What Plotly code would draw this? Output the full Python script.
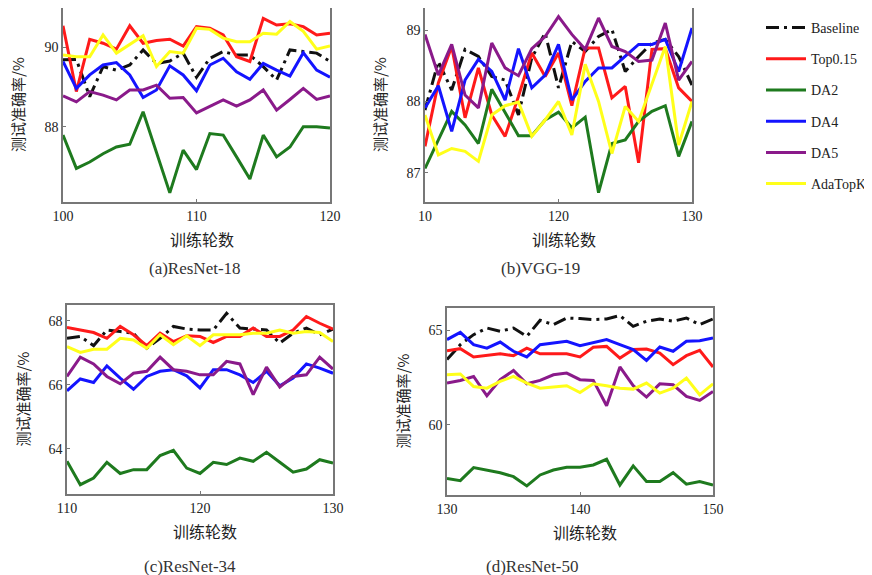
import plotly.graph_objects as go

series_names = ["Baseline", "Top0.15", "DA2", "DA4", "DA5", "AdaTopK"]
series_colors = ["#111111", "#ff1a1a", "#1e7a1e", "#1414ff", "#8a1a8a", "#ffff1a"]

# (a) ResNet-18
epochs_a = list(range(100, 121))
a_baseline = [89.69, 89.70, 88.76, 89.52, 89.43, 89.56, 89.94, 89.60, 89.66, 89.86, 89.25,
              89.73, 89.90, 89.81, 89.81, 89.52, 89.18, 89.94, 89.90, 89.86, 89.65]
a_top015 = [90.55, 88.89, 90.21, 90.11, 89.96, 90.55, 90.11, 90.18, 90.21, 90.04, 90.53,
            90.49, 90.32, 89.77, 89.65, 90.74, 90.57, 90.60, 90.53, 90.32, 90.36]
a_da2 = [87.79, 86.95, 87.11, 87.32, 87.49, 87.56, 88.38, 87.35, 86.33, 87.41, 86.92,
         87.83, 87.79, 87.24, 86.68, 87.79, 87.24, 87.49, 88.00, 88.00, 87.97]
a_da4 = [89.65, 88.97, 89.31, 89.56, 89.62, 89.31, 88.74, 88.93, 89.54, 89.31, 88.91,
         89.56, 89.73, 89.39, 89.20, 89.60, 89.43, 89.28, 89.87, 89.43, 89.25]
a_da5 = [88.78, 88.63, 88.89, 88.80, 88.68, 88.93, 88.93, 89.05, 88.72, 88.74, 88.35,
         88.51, 88.68, 88.52, 88.68, 88.93, 88.42, 88.69, 88.97, 88.69, 88.78]
a_adatopk = [89.81, 89.77, 89.77, 90.32, 89.86, 90.07, 90.30, 89.52, 89.90, 89.86, 90.49,
             90.46, 90.24, 90.15, 90.15, 90.36, 90.34, 90.66, 90.41, 89.96, 90.04]

# (b) VGG-19
epochs_b = list(range(110, 131))
b_baseline = [87.88, 88.56, 88.16, 88.73, 88.63, 88.35, 88.30, 87.81, 88.61, 88.96, 88.19,
              88.84, 88.70, 88.91, 89.01, 88.42, 88.63, 88.82, 88.87, 88.63, 88.23]
b_top015 = [87.37, 88.26, 88.77, 87.77, 88.47, 87.81, 87.51, 88.07, 88.68, 88.35, 88.68,
            87.94, 88.75, 88.75, 88.05, 88.21, 87.14, 88.73, 88.74, 88.19, 88.00]
b_da2 = [87.06, 87.46, 87.86, 87.67, 87.41, 88.17, 87.84, 87.52, 87.52, 87.74, 87.85,
         87.63, 87.78, 86.72, 87.41, 87.46, 87.72, 87.86, 87.94, 87.23, 87.72]
b_da4 = [87.91, 88.22, 87.58, 88.30, 88.59, 88.42, 88.02, 88.74, 88.19, 88.37, 88.80,
         88.02, 88.28, 88.47, 88.47, 88.63, 88.80, 88.80, 88.87, 88.42, 89.03]
b_da5 = [88.94, 88.37, 88.80, 88.09, 87.91, 88.82, 88.47, 88.36, 88.74, 88.91, 89.19,
         88.94, 88.73, 89.17, 88.77, 88.70, 88.56, 88.58, 89.10, 88.30, 88.56]
b_adatopk = [87.81, 87.25, 87.34, 87.30, 87.16, 87.81, 87.94, 87.99, 87.51, 87.74, 88.00,
             87.53, 88.52, 88.00, 87.27, 87.93, 87.72, 88.26, 88.77, 87.39, 88.00]

# (c) ResNet-34
epochs_c = list(range(110, 131))
c_baseline = [67.45, 67.51, 67.22, 67.71, 67.66, 67.61, 67.14, 67.45, 67.82, 67.74, 67.71,
              67.71, 68.23, 67.77, 67.74, 67.71, 67.30, 67.61, 67.77, 67.56, 67.74]
c_top015 = [67.79, 67.71, 67.63, 67.45, 67.82, 67.56, 67.22, 67.61, 67.35, 67.53, 67.51,
            67.32, 67.51, 67.51, 67.77, 67.51, 67.51, 67.71, 68.13, 67.92, 67.74]
c_da2 = [63.61, 62.88, 63.09, 63.58, 63.23, 63.35, 63.35, 63.79, 63.95, 63.40, 63.23,
         63.58, 63.51, 63.71, 63.61, 63.89, 63.58, 63.27, 63.37, 63.66, 63.56]
c_da4 = [65.81, 66.18, 66.07, 66.59, 66.21, 65.86, 66.26, 66.42, 66.47, 66.28, 65.90,
         66.47, 66.47, 66.31, 66.07, 66.42, 65.97, 66.21, 66.65, 66.52, 66.36]
c_da5 = [66.26, 66.86, 66.65, 66.26, 66.03, 66.36, 66.42, 66.86, 66.47, 66.42, 66.31,
         66.31, 66.73, 66.65, 65.69, 66.55, 65.93, 66.26, 66.31, 66.86, 66.49]
c_adatopk = [67.19, 67.01, 67.11, 67.11, 67.45, 67.40, 67.14, 67.56, 67.25, 67.53, 67.22,
             67.56, 67.56, 67.56, 67.61, 67.61, 67.71, 67.61, 67.66, 67.63, 67.35]

# (d) ResNet-50
epochs_d = list(range(130, 151))
d_baseline = [63.45, 64.24, 64.77, 65.12, 64.95, 65.12, 64.68, 65.53, 65.30, 65.65, 65.62,
              65.57, 65.60, 65.78, 65.21, 65.48, 65.60, 65.48, 65.65, 65.30, 65.60]
d_top015 = [63.92, 64.03, 63.59, 63.66, 63.76, 63.66, 64.06, 63.76, 63.76, 63.76, 63.59,
            64.10, 64.15, 63.53, 63.98, 64.01, 63.80, 63.18, 63.66, 63.94, 63.06]
d_da2 = [57.17, 57.05, 57.74, 57.61, 57.47, 57.26, 56.77, 57.35, 57.61, 57.76, 57.76,
         57.88, 58.18, 56.82, 57.83, 57.00, 57.00, 57.47, 56.86, 57.00, 56.82]
d_da4 = [64.51, 64.89, 64.24, 64.06, 64.38, 63.89, 63.59, 64.24, 64.33, 64.42, 64.19,
         64.36, 64.51, 64.24, 63.98, 63.41, 64.12, 63.89, 64.42, 64.45, 64.59]
d_da5 = [62.21, 62.35, 62.56, 61.54, 62.39, 62.88, 62.17, 62.35, 62.65, 62.74, 62.39,
         62.35, 61.01, 63.06, 62.07, 61.47, 62.17, 62.12, 61.50, 61.29, 61.77]
d_adatopk = [62.65, 62.69, 62.03, 61.94, 62.30, 62.56, 62.21, 61.94, 62.00, 62.07, 61.71,
             62.17, 62.07, 61.94, 61.89, 62.21, 61.68, 61.94, 62.47, 61.59, 62.17]

# tick labels
a_xticks = [100, 110, 120]; a_xticktext = ["100", "110", "120"]
a_yticks = [88, 90]; a_yticktext = ["88", "90"]
b_xticks = [110, 120, 130]; b_xticktext = ["10", "120", "130"]
b_yticks = [87, 88, 89]; b_yticktext = ["87", "88", "89"]
c_xticks = [110, 120, 130]; c_xticktext = ["110", "120", "130"]
c_yticks = [64, 66, 68]; c_yticktext = ["64", "66", "68"]
d_xticks = [130, 140, 150]; d_xticktext = ["130", "140", "150"]
d_yticks = [60, 65]; d_yticktext = ["60", "65"]

captions = ["(a)ResNet-18", "(b)VGG-19", "(c)ResNet-34", "(d)ResNet-50"]
x_title = "训练轮数"
y_title = "测试准确率/%"

panels = [
    dict(x=epochs_a, ys=[a_baseline, a_top015, a_da2, a_da4, a_da5, a_adatopk],
         xt=a_xticks, xtt=a_xticktext, yt=a_yticks, ytt=a_yticktext,
         xr=[100, 120], yr=[86.1, 91.0], xd=[63, 330], yd=[8, 202], cap=(195, 268)),
    dict(x=epochs_b, ys=[b_baseline, b_top015, b_da2, b_da4, b_da5, b_adatopk],
         xt=b_xticks, xtt=b_xticktext, yt=b_yticks, ytt=b_yticktext,
         xr=[110, 130], yr=[86.59, 89.31], xd=[425, 692], yd=[8, 202], cap=(540, 268)),
    dict(x=epochs_c, ys=[c_baseline, c_top015, c_da2, c_da4, c_da5, c_adatopk],
         xt=c_xticks, xtt=c_xticktext, yt=c_yticks, ytt=c_yticktext,
         xr=[110, 130], yr=[62.59, 68.49], xd=[67, 333], yd=[305, 494], cap=(190, 566)),
    dict(x=epochs_d, ys=[d_baseline, d_top015, d_da2, d_da4, d_da5, d_adatopk],
         xt=d_xticks, xtt=d_xticktext, yt=d_yticks, ytt=d_yticktext,
         xr=[130, 150], yr=[56.29, 66.18], xd=[447, 713], yd=[308, 495], cap=(532, 566)),
]

# the page body has an 8px margin: place everything in page pixels
OFF = 8
W, H = 872 - OFF, 575 - OFF


def px(X):
    return (X - OFF) / W


def py(Y):
    return 1 - (Y - OFF) / H


SERIF = "Liberation Serif, DejaVu Serif, serif"
CJK = "Noto Sans CJK SC"

fig = go.Figure()
layout = dict(width=W, height=H, margin=dict(l=0, r=0, t=0, b=0, autoexpand=False),
              paper_bgcolor="white", plot_bgcolor="white", showlegend=True)

annotations = []
for i, p in enumerate(panels):
    k = "" if i == 0 else str(i + 1)
    for j, name in enumerate(series_names):
        line = dict(color=series_colors[j], width=3)
        if j == 0:
            line["dash"] = "13px,5px,3px,5px"
        fig.add_trace(go.Scatter(
            x=p["x"], y=p["ys"][j], mode="lines", name=name, line=line,
            legendgroup=name, showlegend=(i == 0),
            xaxis="x" + k, yaxis="y" + k))
    axcommon = dict(showgrid=False, zeroline=False, showline=True, mirror=True,
                    linecolor="#777777", linewidth=1.5, ticks="inside", ticklen=3,
                    tickcolor="#777777", automargin=False,
                    tickfont=dict(family=SERIF, size=14, color="#222222"))
    layout["xaxis" + k] = dict(axcommon, domain=[px(p["xd"][0]), px(p["xd"][1])],
                               range=p["xr"], tickvals=p["xt"], ticktext=p["xtt"],
                               anchor="y" + k)
    layout["yaxis" + k] = dict(axcommon, domain=[py(p["yd"][1]), py(p["yd"][0])],
                               range=p["yr"], tickvals=p["yt"], ticktext=p["ytt"],
                               anchor="x" + k)
    cx = (p["xd"][0] + p["xd"][1]) / 2
    cy = (p["yd"][0] + p["yd"][1]) / 2
    # x axis title
    annotations.append(dict(text=x_title, x=px(cx + 5), y=py(p["yd"][1] + 37),
                            xref="paper", yref="paper", showarrow=False,
                            font=dict(family=CJK, size=16, color="#222222"),
                            xanchor="center", yanchor="middle"))
    # y axis title
    annotations.append(dict(text=y_title, x=px(p["xd"][0] - 45), y=py(cy),
                            xref="paper", yref="paper", showarrow=False, textangle=-90,
                            font=dict(family=CJK, size=15, color="#222222"),
                            xanchor="center", yanchor="middle"))
    # caption
    annotations.append(dict(text=captions[i], x=px(p["cap"][0]), y=py(p["cap"][1]),
                            xref="paper", yref="paper", showarrow=False,
                            font=dict(family=SERIF, size=17, color="#333333"),
                            xanchor="center", yanchor="middle"))

layout["annotations"] = annotations
layout["legend"] = dict(x=px(761), y=py(12), xanchor="left", yanchor="top",
                        font=dict(family=SERIF, size=14, color="#222222"),
                        tracegroupgap=10, itemwidth=40, bgcolor="rgba(0,0,0,0)")
fig.update_layout(**layout)
fig.write_html("out.html")
